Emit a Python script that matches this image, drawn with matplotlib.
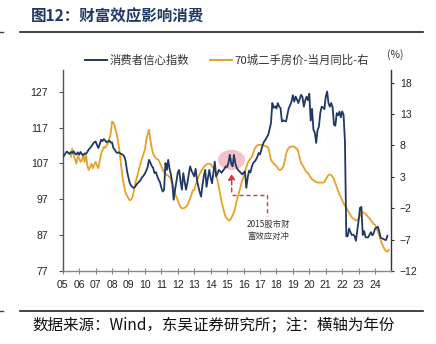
import matplotlib
matplotlib.use("Agg")
import matplotlib.pyplot as plt
from matplotlib.patches import Ellipse
from matplotlib.lines import Line2D
import numpy as np

# ---------------- data ----------------
years = list(range(2005, 2025))
tick_labels = ["05", "06", "07", "08", "09", "10", "11", "12", "13", "14",
               "15", "16", "17", "18", "19", "20", "21", "22", "23", "24"]

# consumer confidence index (left axis), monthly from 2005-01
cci_2005 = [108.6, 109.2, 109.8, 110.3, 110.0, 109.6, 110.2, 109.9, 110.4, 109.7, 109.5, 110.1]
cci_2006 = [109.4, 110.2, 109.6, 109.3, 109.8, 109.7, 110.2, 110.9, 111.3, 111.8, 112.4, 112.9]
cci_2007 = [113.1, 112.2, 111.3, 112.3, 113.6, 113.2, 113.8, 113.4, 112.9, 113.1, 113.4, 112.8]
cci_2008 = [112.9, 111.3, 110.8, 110.2, 109.9, 110.1, 109.8, 109.6, 109.4, 108.9, 107.5, 104.8]
cci_2009 = [103.0, 101.5, 100.8, 100.4, 100.2, 100.6, 101.2, 101.6, 102.0, 102.5, 103.2, 103.6]
cci_2010 = [104.2, 105.0, 106.0, 108.0, 107.2, 106.3, 105.8, 104.3, 104.6, 103.5, 102.5, 101.8]
cci_2011 = [100.2, 99.2, 99.7, 107.1, 105.2, 108.0, 105.5, 103.9, 101.5, 96.9, 99.7, 102.0]
cci_2012 = [104.5, 105.2, 102.0, 99.7, 104.3, 102.0, 99.7, 101.5, 104.0, 106.2, 105.0, 104.2]
cci_2013 = [103.4, 105.5, 102.5, 100.6, 99.0, 97.8, 101.0, 103.5, 105.2, 100.5, 103.0, 105.2]
cci_2014 = [103.0, 101.5, 104.5, 107.5, 103.4, 104.2, 105.2, 104.8, 104.4, 105.0, 105.5, 106.2]
cci_2015 = [106.0, 107.2, 109.4, 107.0, 106.2, 109.4, 107.0, 105.8, 105.2, 104.8, 104.4, 104.0]
cci_2016 = [104.4, 104.8, 100.2, 103.0, 105.0, 104.5, 106.0, 107.1, 107.5, 108.0, 108.8, 109.9]
cci_2017 = [109.5, 110.8, 112.2, 113.1, 113.6, 114.3, 115.0, 116.5, 118.2, 123.8, 122.5, 122.9]
cci_2018 = [122.3, 123.8, 122.8, 122.4, 118.7, 119.0, 118.8, 118.7, 120.5, 122.4, 123.2, 124.2]
cci_2019 = [126.0, 124.2, 125.6, 124.8, 123.8, 125.0, 126.1, 125.5, 122.8, 124.5, 125.6, 124.6]
cci_2020 = [126.4, 118.9, 122.2, 116.4, 115.6, 112.7, 116.3, 117.2, 121.0, 122.8, 122.6, 122.1]
cci_2021 = [125.6, 127.0, 123.8, 122.8, 123.8, 122.6, 117.8, 117.5, 121.0, 120.4, 121.4, 119.8]
cci_2022 = [121.5, 120.5, 113.2, 86.7, 86.8, 88.9, 87.9, 87.1, 87.2, 86.8, 85.5, 88.3]
cci_2023 = [91.2, 94.7, 94.9, 87.1, 88.2, 86.5, 86.4, 86.5, 87.2, 87.9, 87.0, 87.6]
cci_2024 = [88.9, 89.1, 89.4, 88.2, 86.4, 86.2, 86.0, 85.8, 85.7, 86.9]

# 70-city second-hand house price YoY (%), right axis, monthly from 2005-07
hp_2005 = [6.2, 7.5, 6.4, 5.8, 5.1, 6.3]
hp_2006 = [6.0, 5.4, 5.6, 6.5, 5.4, 6.5, 4.8, 4.1, 4.6, 5.1, 4.4, 5.0]
hp_2007 = [5.4, 4.8, 4.4, 5.5, 6.7, 7.2, 7.8, 7.6, 8.0, 8.3, 9.0, 9.9]
hp_2008 = [11.8, 11.6, 11.0, 10.2, 9.2, 7.8, 6.2, 4.1, 2.5, 1.4, 0.4, 0.0]
hp_2009 = [-0.4, -0.7, -0.6, -0.2, 0.8, 2.0, 2.8, 3.6, 4.5, 5.3, 6.0, 6.7]
hp_2010 = [7.3, 8.9, 9.8, 10.5, 8.9, 7.6, 6.7, 6.3, 6.0, 5.8, 5.7, 5.2]
hp_2011 = [4.7, 4.2, 3.7, 3.5, 3.3, 3.2, 3.0, 2.6, 1.9, 1.2, 0.4, -0.2]
hp_2012 = [-0.7, -1.3, -1.8, -2.0, -2.0, -1.9, -1.7, -1.5, -1.0, -0.4, 0.2, 0.9]
hp_2013 = [0.9, 1.7, 2.4, 3.0, 3.5, 3.9, 4.2, 4.6, 4.8, 5.0, 5.1, 5.1]
hp_2014 = [5.0, 4.7, 4.4, 4.1, 3.3, 2.4, 1.4, 0.2, -1.0, -1.8, -2.7, -3.4]
hp_2015 = [-3.6, -3.9, -3.9, -3.6, -3.1, -2.6, -1.8, -0.8, 0.0, 0.8, 1.6, 2.4]
hp_2016 = [3.1, 3.8, 4.5, 5.2, 5.6, 5.9, 6.2, 6.8, 7.4, 7.8, 8.0, 8.1]
hp_2017 = [8.1, 8.1, 8.0, 8.0, 7.9, 7.8, 7.7, 6.8, 5.7, 5.4, 5.1, 4.9]
hp_2018 = [4.7, 4.4, 4.1, 4.1, 4.3, 4.6, 5.5, 6.6, 7.3, 7.6, 7.8, 7.8]
hp_2019 = [7.9, 7.8, 7.6, 7.5, 7.0, 6.0, 5.2, 4.9, 4.5, 4.1, 3.8, 3.6]
hp_2020 = [3.3, 2.9, 2.6, 2.5, 2.3, 2.2, 2.1, 2.1, 2.1, 2.1, 2.1, 2.2]
hp_2021 = [2.6, 3.0, 3.3, 3.4, 3.3, 3.0, 2.6, 2.0, 1.4, 0.8, 0.2, -0.2]
hp_2022 = [-0.7, -1.2, -1.6, -1.9, -2.3, -2.7, -3.1, -3.4, -3.6, -3.8, -3.9, -3.9]
hp_2023 = [-3.6, -3.2, -2.8, -2.6, -2.7, -2.9, -3.1, -3.4, -3.6, -3.9, -4.2, -4.5]
hp_2024 = [-4.6, -5.1, -5.7, -6.3, -7.0, -7.6, -8.1, -8.5, -8.8, -8.9, -8.6]

cci_blocks = [cci_2005, cci_2006, cci_2007, cci_2008, cci_2009, cci_2010, cci_2011,
              cci_2012, cci_2013, cci_2014, cci_2015, cci_2016, cci_2017, cci_2018,
              cci_2019, cci_2020, cci_2021, cci_2022, cci_2023, cci_2024]
hp_blocks = [hp_2005, hp_2006, hp_2007, hp_2008, hp_2009, hp_2010, hp_2011,
             hp_2012, hp_2013, hp_2014, hp_2015, hp_2016, hp_2017, hp_2018,
             hp_2019, hp_2020, hp_2021, hp_2022, hp_2023, hp_2024]


def to_series(blocks, first_month=0):
    t, v = [], []
    for i, (yr, vals) in enumerate(zip(years, blocks)):
        start = first_month if i == 0 else 0
        for k, val in enumerate(vals):
            t.append(yr + (start + k) / 12.0)
            v.append(val)
    return np.array(t), np.array(v)


cci_t, cci_v = to_series(cci_blocks, 0)
hp_t, hp_v = to_series(hp_blocks, 6)

NAVY = "#1F3864"
ORANGE = "#E9A02B"
RED = "#D9363E"
TICK_FONT = "Liberation Sans"
CJK = ["Noto Sans CJK SC", "DejaVu Sans"]

W, H = 436, 344
fig = plt.figure(figsize=(W / 100, H / 100), dpi=100)


def fx(x):
    return x / W


def fy(y):
    return 1 - y / H


ax = fig.add_axes([fx(62.7), fy(271.3), fx(390.7) - fx(62.7), fy(70) - fy(271.3)])
ax2 = ax.twinx()
ax.set_zorder(ax2.get_zorder() + 1)
ax.patch.set_visible(False)

ax.plot(cci_t, cci_v, color=NAVY, lw=1.3, zorder=3)
ax2.plot(hp_t, hp_v, color=ORANGE, lw=1.3, zorder=2)

ax.set_xlim(2005.0, 2024.95)
ax.set_ylim(77, 133)
ax2.set_ylim(-12, 20)
ax.set_yticks([77, 87, 97, 107, 117, 127])
ax2.set_yticks([-12, -7, -2, 3, 8, 13, 18])
ax.set_xticks(years)
ax.set_xticklabels(tick_labels)

for a in (ax, ax2):
    a.spines["top"].set_visible(False)
ax2.spines["bottom"].set_visible(False)
ax2.spines["left"].set_visible(False)
ax.spines["right"].set_visible(False)
ax.spines["left"].set_color("#555555")
ax2.spines["right"].set_color("#333333")
ax.spines["bottom"].set_color("#888888")
for s in ("left", "bottom"):
    ax.spines[s].set_linewidth(1.0)
ax2.spines["right"].set_linewidth(1.0)

ax.tick_params(axis="y", direction="out", length=3, width=0.8, color="#555555",
               pad=7.5, labelsize=7.5, labelcolor="#222222")
ax2.tick_params(axis="y", direction="out", length=2.5, width=0.8, color="#333333",
                pad=4, labelsize=7.5, labelcolor="#222222")
ax.tick_params(axis="x", direction="inout", length=4, width=0.8, color="#888888",
               pad=4, labelsize=7.5, labelcolor="#222222")
for lab in ax.get_xticklabels() + ax.get_yticklabels() + ax2.get_yticklabels():
    lab.set_fontfamily(TICK_FONT)

# annotation: ellipse, arrow, dashed connector, text
ell = Ellipse((2015.27, 108.0), width=1.64, height=5.6, facecolor="#F0B8BE",
              edgecolor="none", alpha=0.85, zorder=1)
ax.add_patch(ell)
ax.annotate("", xy=(2015.28, 104.9), xytext=(2015.28, 98.3),
            arrowprops=dict(arrowstyle="-|>,head_length=0.35,head_width=0.2",
                            color=RED, lw=1.0, linestyle=(0, (3, 2))), zorder=4)
ax.plot([2015.28, 2017.45, 2017.45], [98.3, 98.3, 92.3], color=RED, lw=1.0,
        linestyle=(0, (3, 2)), zorder=4)
ax.text(2017.49, 88.3, "2015股市财\n富效应对冲", ha="center", va="center",
        fontsize=6, color="#333333", family=CJK, linespacing=1.5, zorder=4)

# legend (manual)
fig.add_artist(Line2D([fx(85), fx(107)], [fy(60), fy(60)], color=NAVY, lw=1.4))
fig.text(fx(110), fy(60), "消费者信心指数", fontsize=8.2, color="#333333",
         family=CJK, va="center", ha="left")
fig.add_artist(Line2D([fx(210), fx(232)], [fy(60), fy(60)], color=ORANGE, lw=1.4))
fig.text(fx(234), fy(60), "70城二手房价-当月同比-右", fontsize=8.2, color="#333333",
         family=CJK, va="center", ha="left")
fig.text(fx(395), fy(55), "(%)", fontsize=7.5, color="#333333", family=CJK,
         va="center", ha="center")

# title & rules
fig.text(fx(31), fy(16), "图12：财富效应影响消费", fontsize=11.2, fontweight="bold",
         color="#1F3864", family=CJK, va="center", ha="left")
for yy in (32, 310.7):
    fig.add_artist(Line2D([fx(20), fx(423)], [fy(yy), fy(yy)], color="#222222", lw=1.2))
    fig.add_artist(Line2D([fx(0), fx(3)], [fy(yy), fy(yy)], color="#444444", lw=1.0))

fig.text(fx(32), fy(325), "数据来源：Wind，东吴证券研究所；注：横轴为年份",
         fontsize=11.2, color="#111111", family=CJK, va="center", ha="left")

fig.savefig("out.png", dpi=100)
